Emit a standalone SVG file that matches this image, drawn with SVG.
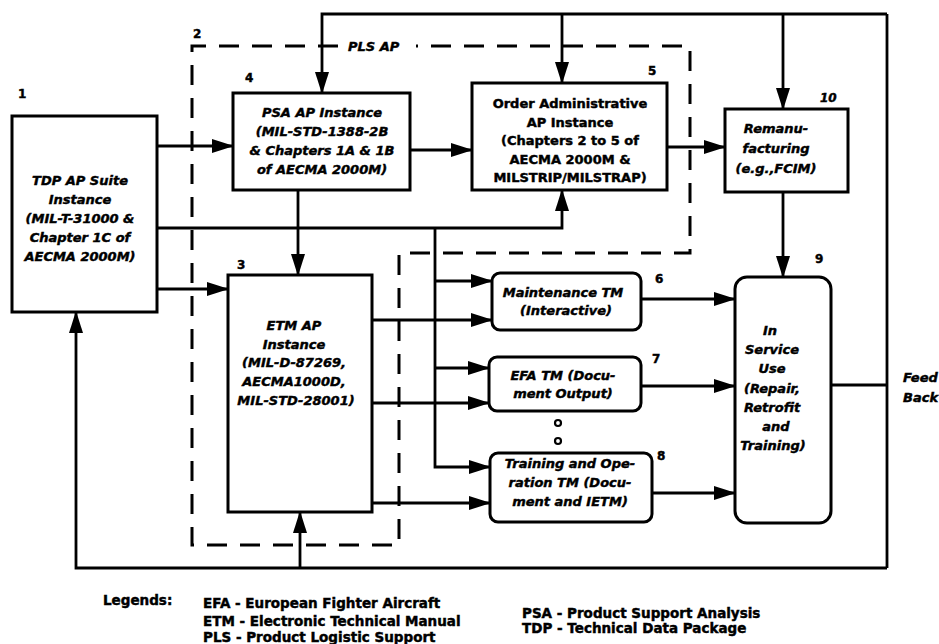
<svg xmlns="http://www.w3.org/2000/svg" width="939" height="644" viewBox="0 0 939 644">
<defs>
<marker id="ah" markerUnits="userSpaceOnUse" markerWidth="22" markerHeight="14" refX="21" refY="7" orient="auto"><path d="M0,0 L22,7 L0,14 z" fill="#000"/></marker>
<style>
.box{fill:#fff;stroke:#000;stroke-width:3}
.c{fill:none;stroke:#000;stroke-width:2.8}
.a{marker-end:url(#ah)}
.dash{fill:none;stroke:#000;stroke-width:3}
.dash{stroke-dasharray:20 13}
text{font-family:"DejaVu Sans","Liberation Sans",sans-serif;font-weight:bold;fill:#000;stroke:#000;stroke-width:0.45}
.t{font-size:13px;font-style:italic;text-anchor:middle}
.u{font-size:13px;text-anchor:middle}
.n{font-size:12px}
.lg{font-size:13.5px}
</style>
</defs>
<rect width="939" height="644" fill="#fff"/>

<g id="plsap-boundary">
<path class="dash" d="M338,46 H192 V545 H399 V253 H690 V46 H416"/>
<text x="348" y="51" class="n" style="font-style:italic;font-size:13px">PLS AP</text>
<text x="193" y="38" class="n">2</text>
</g>

<g id="connectors">
<path class="c" d="M831,385 H887"/>
<path class="c" d="M887,14 V568"/>
<path class="c a" d="M887,568 H76 V312"/>
<path class="c a" d="M300,568 V512"/>
<path class="c a" d="M887,14 H322 V93"/>
<path class="c a" d="M562,14 V83"/>
<path class="c a" d="M783,14 V109"/>
<path class="c a" d="M157,146 H233"/>
<path class="c a" d="M410,150 H472"/>
<path class="c a" d="M667,147 H725"/>
<path class="c a" d="M298,190 V275"/>
<path class="c a" d="M157,289 H228"/>
<path class="c a" d="M157,228 H562 V190"/>
<path class="c a" d="M435,228 V467 H490"/>
<path class="c a" d="M435,281 H492"/>
<path class="c a" d="M435,368 H489"/>
<path class="c a" d="M372,320 H492"/>
<path class="c a" d="M372,403 H489"/>
<path class="c a" d="M372,503 H490"/>
<path class="c a" d="M641,299 H735"/>
<path class="c a" d="M641,386 H735"/>
<path class="c a" d="M652,493 H735"/>
<path class="c a" d="M783,192 V277"/>
</g>

<g id="node1">
<rect class="box" x="12" y="116" width="145" height="196"/>
<text x="18" y="98" class="n">1</text>
<text class="t" x="80"><tspan x="80" y="185">TDP AP Suite</tspan><tspan x="80" y="204">Instance</tspan><tspan x="80" y="223">(MIL-T-31000 &amp;</tspan><tspan x="80" y="242">Chapter 1C of</tspan><tspan x="80" y="261">AECMA 2000M)</tspan></text>
</g>

<g id="node4">
<rect class="box" x="233" y="93" width="177" height="97"/>
<text x="245" y="82" class="n">4</text>
<text class="t"><tspan x="322" y="117">PSA AP Instance</tspan><tspan x="322" y="136">(MIL-STD-1388-2B</tspan><tspan x="322" y="155">&amp; Chapters 1A &amp; 1B</tspan><tspan x="322" y="174">of AECMA 2000M)</tspan></text>
</g>

<g id="node5">
<rect class="box" x="472" y="83" width="195" height="107"/>
<text x="648" y="75" class="n">5</text>
<text class="u"><tspan x="570" y="108">Order Administrative</tspan><tspan x="570" y="127">AP Instance</tspan><tspan x="570" y="145">(Chapters 2 to 5 of</tspan><tspan x="570" y="164">AECMA 2000M &amp;</tspan><tspan x="570" y="182">MILSTRIP/MILSTRAP)</tspan></text>
</g>

<g id="node10">
<rect class="box" x="725" y="109" width="123" height="83"/>
<text x="820" y="102" class="n" style="font-style:italic">10</text>
<text class="t"><tspan x="776" y="133">Remanu-</tspan><tspan x="776" y="153">facturing</tspan><tspan x="776" y="173">(e.g.,FCIM)</tspan></text>
</g>

<g id="node3">
<rect class="box" x="228" y="275" width="144" height="237"/>
<text x="237" y="269" class="n">3</text>
<text class="t"><tspan x="294" y="330">ETM AP</tspan><tspan x="294" y="349">Instance</tspan><tspan x="294" y="367">(MIL-D-87269,</tspan><tspan x="294" y="386">AECMA1000D,</tspan><tspan x="296" y="405">MIL-STD-28001)</tspan></text>
</g>

<g id="node6">
<rect class="box" x="492" y="273" width="149" height="57" rx="8"/>
<text x="655" y="283" class="n">6</text>
<text class="t"><tspan x="563" y="297">Maintenance TM</tspan><tspan x="566" y="315">(Interactive)</tspan></text>
</g>

<g id="node7">
<rect class="box" x="489" y="357" width="152" height="54" rx="8"/>
<text x="652" y="363" class="n">7</text>
<text class="t"><tspan x="563" y="380">EFA TM (Docu-</tspan><tspan x="563" y="398">ment Output)</tspan></text>
</g>

<g id="ellipsis">
<circle cx="558" cy="423" r="3" fill="none" stroke="#000" stroke-width="2.2"/>
<circle cx="558" cy="441" r="3" fill="none" stroke="#000" stroke-width="2.2"/>
</g>

<g id="node8">
<rect class="box" x="490" y="453" width="162" height="69" rx="8"/>
<text x="657" y="460" class="n">8</text>
<text class="t"><tspan x="570" y="468">Training and Ope-</tspan><tspan x="570" y="487">ration TM (Docu-</tspan><tspan x="570" y="506">ment and IETM)</tspan></text>
</g>

<g id="node9">
<rect class="box" x="735" y="277" width="96" height="246" rx="12"/>
<text x="815" y="263" class="n">9</text>
<text class="t"><tspan x="770" y="335">In</tspan><tspan x="772" y="354">Service</tspan><tspan x="772" y="373">Use</tspan><tspan x="772" y="393">(Repair,</tspan><tspan x="772" y="412">Retrofit</tspan><tspan x="776" y="431">and</tspan><tspan x="773" y="450">Training)</tspan></text>
</g>

<g id="feedback-label">
<text x="903" y="382" class="t" style="text-anchor:start">Feed</text>
<text x="903" y="402" class="t" style="text-anchor:start">Back</text>
</g>

<g id="legend">
<text x="103" y="605" class="lg">Legends:</text>
<text x="203" y="608" class="lg">EFA - European Fighter Aircraft</text>
<text x="203" y="626" class="lg">ETM  - Electronic Technical Manual</text>
<text x="203" y="642" class="lg">PLS - Product Logistic Support</text>
<text x="522" y="618" class="lg">PSA - Product Support Analysis</text>
<text x="522" y="633" class="lg">TDP - Technical Data Package</text>
</g>
</svg>
